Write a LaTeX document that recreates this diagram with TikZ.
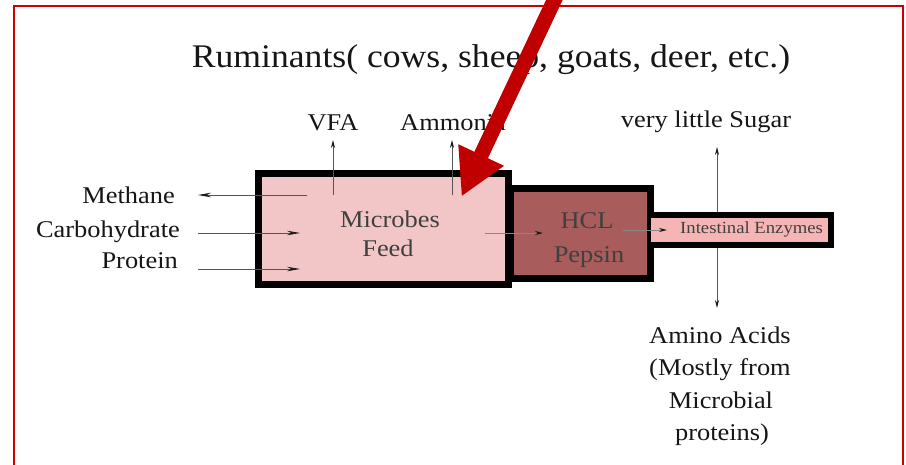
\documentclass[tikz,border=0pt]{standalone}
\usepackage{fontspec}
\setmainfont{Liberation Serif}[FakeStretch=1.1]
\newfontfamily\titlefont{Liberation Serif}[FakeStretch=1.08]
\usetikzlibrary{arrows.meta}
\definecolor{framered}{HTML}{CC0000}
\definecolor{bigred}{HTML}{C00000}
\definecolor{micpink}{HTML}{F2C6C6}
\definecolor{hclred}{HTML}{A85C5C}
\definecolor{tubepink}{HTML}{F5B5B5}
\definecolor{txt}{HTML}{161616}
\definecolor{boxtxt}{HTML}{404040}
\definecolor{thinline}{HTML}{555555}
\definecolor{headcol}{HTML}{1A1A1A}
\begin{document}
\begin{tikzpicture}[x=1pt,y=-1pt,
  lbl/.style={font=\fontsize{24}{24}\selectfont, text=txt, inner sep=0pt, anchor=base},
  boxlbl/.style={lbl, text=boxtxt},
  thinarr/.style={draw=thinline, line width=0.8pt, -{Stealth[length=13pt,width=4.5pt,color=headcol]}},
  smallarr/.style={draw=thinline, line width=0.8pt, -{Stealth[length=8pt,width=4pt,color=headcol]}},
  thickbox/.style={draw=black, line width=7pt, inner sep=0pt}]

\fill[white] (0,0) rectangle (906,464);
\useasboundingbox (0,0) rectangle (906,464);

% frame
\draw[framered, line width=1.5pt] (14,470) -- (14,6) -- (903,6) -- (903,470);

% vertical sugar / amino acids line (behind tube)
\coordinate (vc) at (717,230);
\coordinate (vtop) at (717,147);
\coordinate (vbot) at (717,308);
\draw[smallarr] (vc) -- (vtop);
\draw[smallarr] (vc) -- (vbot);

% HCL box
\node[thickbox, fill=hclred, minimum width=140pt, minimum height=90pt] (hcl) at (580.5,233.5) {};
% intestine tube
\node[fill=tubepink, inner sep=0pt, minimum width=180pt, minimum height=30pt] (tube) at (741,230) {};
\draw[line width=6pt] (tube.north west) -- (tube.north east) -- (tube.south east) -- (tube.south west);
% microbes box
\node[thickbox, fill=micpink, minimum width=250pt, minimum height=111pt] (mic) at (383.5,229) {};

% box texts
\node[boxlbl] (tmic) at (390,227) {Microbes};
\node[boxlbl] (tfeed) at (388,256) {Feed};
\node[boxlbl] (thcl) at (587,228) {HCL};
\node[boxlbl] (tpep) at (589,262) {Pepsin};
\node[lbl, text=boxtxt, font=\fontsize{17}{17}\selectfont, anchor=base west] (tint) at (680,233) {Intestinal Enzymes};

% title
\node[lbl, font=\titlefont\fontsize{33}{33}\selectfont] (title) at (491,67) {Ruminants( cows, sheep, goats, deer, etc.)};

% labels
\node[lbl, anchor=base east] (meth) at (175,203) {Methane};
\node[lbl, anchor=base east] (carb) at (180,237) {Carbohydrate};
\node[lbl, anchor=base east] (prot) at (178,268) {Protein};
\node[lbl] (vfa) at (333,130) {VFA};
\node[lbl, anchor=base west] (amm) at (400,130) {Ammonia};
\node[lbl] (sugar) at (706,127) {very little Sugar};
\node[lbl] (aa1) at (720,343) {Amino Acids};
\node[lbl] (aa2) at (720,375) {(Mostly from};
\node[lbl] (aa3) at (721,408) {Microbial};
\node[lbl] (aa4) at (722,440) {proteins)};

% flow arrows
\coordinate (m0) at (307,195); \coordinate (m1) at (198,195);
\coordinate (c0) at (198,233); \coordinate (c1) at (300,233);
\coordinate (p0) at (198,269); \coordinate (p1) at (300,269);
\draw[thinarr] (m0) -- (m1);
\draw[thinarr] (c0) -- (c1);
\draw[thinarr] (p0) -- (p1);
\coordinate (v0) at (333,195); \coordinate (v1) at (333,140);
\coordinate (a0) at (452,195); \coordinate (a1) at (452,140);
\draw[smallarr] (v0) -- (v1);
\draw[smallarr] (a0) -- (a1);
\coordinate (h0) at (485,233); \coordinate (h1) at (543,233);
\coordinate (i0) at (623,230); \coordinate (i1) at (667,230);
\draw[smallarr, draw=thinline!70] (h0) -- (h1);
\draw[smallarr, draw=thinline!70] (i0) -- (i1);

% big red pointer
\coordinate (rs) at (560,-12);
\coordinate (rt) at (461.5,196.6);
\draw[bigred, line width=15pt, -{Triangle[length=46pt,width=47pt]}] (rs) -- (rt);
\end{tikzpicture}
\end{document}
